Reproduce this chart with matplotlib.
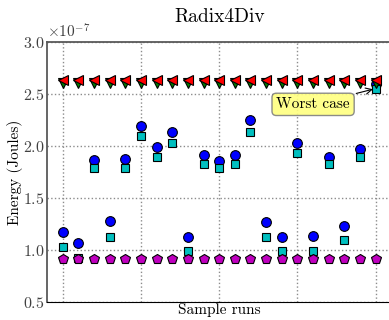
import numpy as np
import matplotlib
matplotlib.use('Agg')
import matplotlib.pyplot as plt

plt.rcParams['font.family'] = ['cmr10', 'DejaVu Serif']
plt.rcParams['mathtext.fontset'] = 'cm'
plt.rcParams['axes.formatter.use_mathtext'] = True

# valeurs (x 1e-7 Joules)
runs = np.arange(21)
red_tri = [2.635] * 21
green_tri = [2.61] * 21
blue_circ = [1.177, 1.064, 1.865, 1.279, 1.872, 2.196, 1.987, 2.132, 1.122, 1.917, 1.86,
             1.91, 2.25, 1.27, 1.125, 2.026, 1.132, 1.898, 1.234, 1.97, 2.60]
cyan_sq = [1.026, 0.92, 1.79, 1.129, 1.79, 2.10, 1.89, 2.033, 0.99, 1.824, 1.79,
           1.824, 2.138, 1.129, 0.987, 1.933, 0.987, 1.824, 1.093, 1.89, 2.552]
magenta_pent = [0.913] * 21

sc = 1e-7
fig = plt.figure(figsize=(3.89, 3.2), dpi=100)
ax = fig.add_axes([0.121, 0.056, 0.885, 0.813])

ax.plot(runs, np.array(blue_circ) * sc, 'o', color='b', mec='k', ms=7, mew=0.8)
ax.plot(runs, np.array(cyan_sq) * sc, 's', color='c', mec='k', ms=6.3, mew=0.8)
ax.plot(runs, np.array(magenta_pent) * sc, 'p', color='m', mec='k', ms=7, mew=0.8)
ax.plot(runs, np.array(green_tri) * sc, 'v', color='g', mec='k', ms=6.5, mew=0.8)
ax.plot(runs, np.array(red_tri) * sc, '<', color='r', mec='k', ms=6.5, mew=0.8)

ax.annotate('Worst case', xy=(20, cyan_sq[-1] * sc), xytext=(16.0, 2.40e-7),
            ha='center', va='center', fontsize=11,
            bbox=dict(boxstyle='round,pad=0.28', fc='#ffff80', ec='0.5', alpha=0.9),
            arrowprops=dict(arrowstyle='->', color='k', lw=0.8))

ax.set_xlim(-1, 21)
ax.set_ylim(0.5e-7, 3.0e-7)
ax.set_xticks([0, 5, 10, 15, 20])
ax.set_xticklabels([])
ax.set_yticks(np.arange(0.5, 3.01, 0.5) * sc)
ax.tick_params(length=0, labelsize=11.5, colors='0.25', pad=2)
ax.grid(True, linestyle=':', color='0.55', lw=1)
ax.yaxis.get_offset_text().set_fontsize(11)
ax.yaxis.get_offset_text().set_color('0.25')
for s in ['left', 'top']:
    ax.spines[s].set_color('0.35')
    ax.spines[s].set_linewidth(1.3)
ax.spines['bottom'].set_color('k')

ax.set_title('Radix4Div', fontsize=14, pad=14)
ax.set_xlabel('Sample runs', fontsize=11, labelpad=-1)
ax.set_ylabel('Energy (Joules)', fontsize=11, labelpad=0)

fig.savefig('out.png', dpi=100)
